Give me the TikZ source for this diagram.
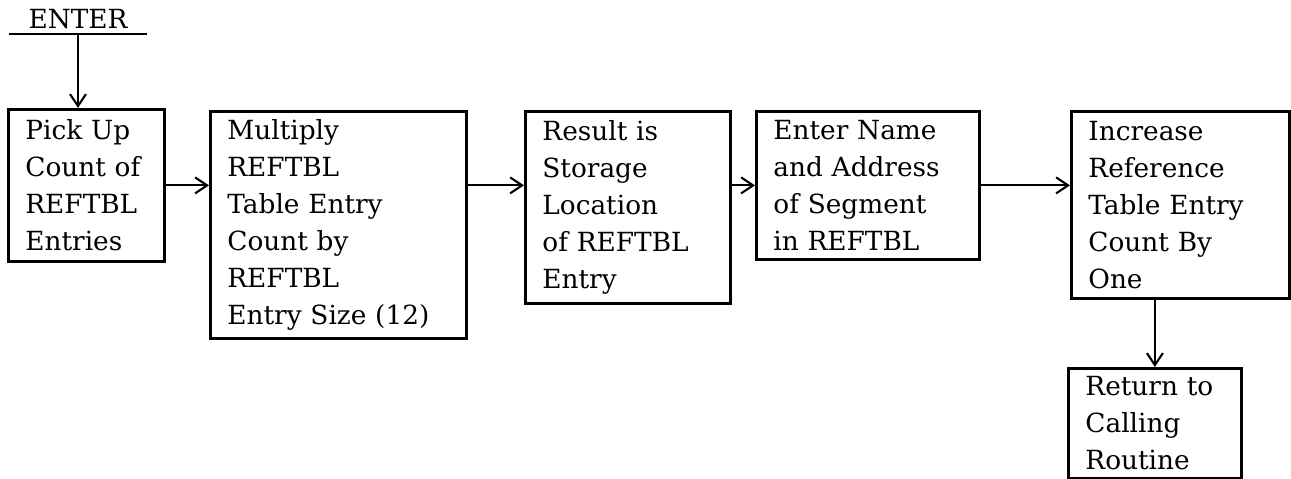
\documentclass[tikz,border=0pt]{standalone}
\usepackage{fontspec}
\setmainfont{DejaVu Serif}
\usetikzlibrary{arrows.meta, positioning}

\begin{document}
\begin{tikzpicture}[x=0.02cm, y=-0.02cm,
            box/.style={draw, rectangle, line width=1.6pt, anchor=north west, align=left, inner xsep=0.34cm, inner ysep=0.1cm, font=\fontsize{15}{21}\selectfont},
            flow/.style={-{Straight Barb[length=2.4mm, width=3.2mm]}, line width=1.2pt}]

            \useasboundingbox (0,0) rectangle (1291,479);

            \node[font=\fontsize{15}{21}\selectfont, anchor=base, minimum width=2.76cm, inner xsep=0pt, inner ysep=0.08cm] (start) at (78,29) {ENTER};
            \draw[line width=1.2pt] (start.south west) -- (start.south east);

            \node[box, text width=2.44cm, minimum height=3.04cm] (pickup) at (7,108) {Pick Up\\Count of\\REFTBL\\Entries};
            \node[box, text width=4.44cm, minimum height=4.54cm] (multiply) at (209,110) {Multiply\\REFTBL\\Table Entry\\Count by\\REFTBL\\Entry Size (12)};
            \node[box, text width=3.42cm, minimum height=3.84cm] (result) at (524,110) {Result is\\Storage\\Location\\of REFTBL\\Entry};
            \node[box, text width=3.78cm, minimum height=2.96cm] (entername) at (755,110) {Enter Name\\and Address\\of Segment\\in REFTBL};
            \node[box, text width=3.68cm, minimum height=3.74cm] (increase) at (1070,110) {Increase\\Reference\\Table Entry\\Count By\\One};
            \node[box, text width=2.78cm, minimum height=2.2cm] (return) at (1067,367) {Return to\\Calling\\Routine};

            \draw[flow] (start.south) -- (start.south |- pickup.north);
            \draw[flow] (pickup.east) -- (pickup.east -| multiply.west);
            \draw[flow] (multiply.east |- pickup.east) -- (result.west |- pickup.east);
            \draw[flow] (result.east |- entername.west) -- (entername.west);
            \draw[flow] (entername.east) -- (entername.east -| increase.west);
            \draw[flow] (return.north |- increase.south) -- (return.north);
        \end{tikzpicture}
\end{document}
